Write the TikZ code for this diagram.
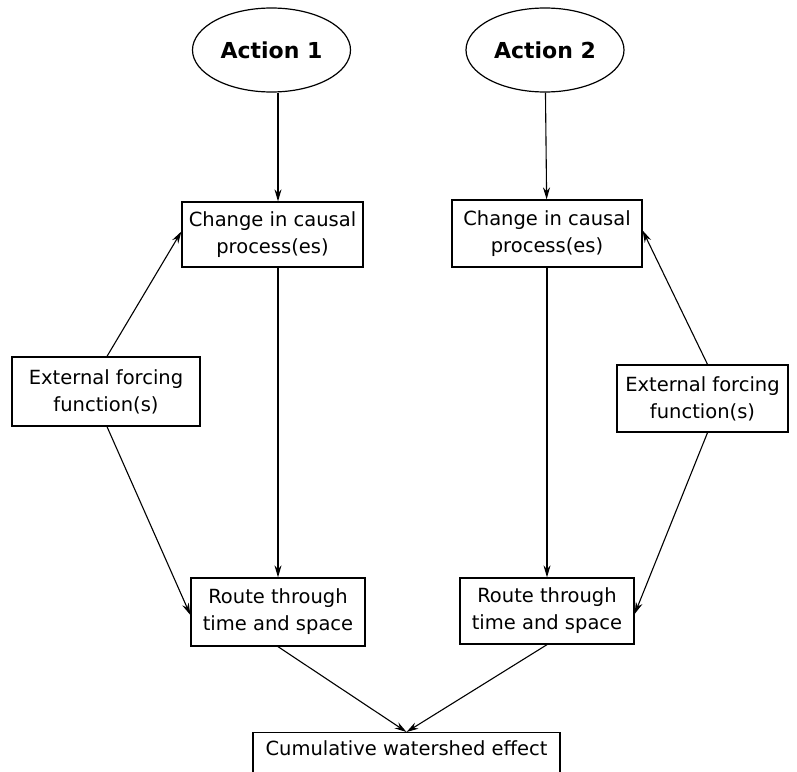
\documentclass[tikz,border=0pt]{standalone}
\usepackage{fontspec}
\setmainfont{DejaVu Sans}
\usetikzlibrary{arrows.meta,shapes.geometric}
\tikzset{
	box/.style={draw, line width=1.3pt, align=center, inner sep=0pt,
			font=\fontsize{19.5}{27}\selectfont},
	action/.style={draw, ellipse, line width=1.2pt, inner sep=0pt,
			minimum width=158pt, minimum height=84pt,
			font=\fontsize{22}{26}\selectfont\bfseries},
	link/.style={->, line width=1.1pt}
}

\begin{document}
\begin{tikzpicture}[x=1pt, y=-1pt, >={Stealth[length=12pt,width=7pt]}]
        \useasboundingbox (0,0) rectangle (797,771);
        \node[action] (act1) at (271.5, 50) {Action 1};
        \node[action] (act2) at (545, 50) {Action 2};
        \node[box, minimum width=181pt, minimum height=65pt] (chg1) at (272.5, 234.5) {Change in causal\\process(es)};
        \node[box, minimum width=190pt, minimum height=67pt] (chg2) at (547, 233.5) {Change in causal\\process(es)};
        \node[box, minimum width=188pt, minimum height=69pt] (ext1) at (106, 391.5) {External forcing\\function(s)};
        \node[box, minimum width=171pt, minimum height=67pt] (ext2) at (702.5, 398.5) {External forcing\\function(s)};
        \node[box, minimum width=174pt, minimum height=68pt] (rt1) at (278, 612) {Route through\\time and space};
        \node[box, minimum width=174pt, minimum height=66pt] (rt2) at (547, 611) {Route through\\time and space};
        \node[box, minimum width=307pt, anchor=north, inner ysep=8pt, text depth=40pt] (cum) at (406.5, 732) {Cumulative watershed effect};
        \draw [link] (act1.south -| rt1) -- (chg1.north -| rt1);
        \draw [link] (act2) -- (chg2);
        \draw [link] (chg1.south -| rt1) -- (rt1);
        \draw [link] (chg2) -- (rt2);
        \draw [link] ([xshift=1pt]ext1.north) -- ([yshift=3pt]chg1.west);
        \draw [link] ([xshift=1pt]ext1.south) -- ([yshift=-3pt]rt1.west);
        \draw [link] ([xshift=5pt]ext2.north) -- ([yshift=3pt]chg2.east);
        \draw [link] ([xshift=5pt]ext2.south) -- ([yshift=-3pt]rt2.east);
        \draw [link] (rt1.south) -- (cum.north);
        \draw [link] (rt2.south) -- (cum.north);
    \end{tikzpicture}
\end{document}
